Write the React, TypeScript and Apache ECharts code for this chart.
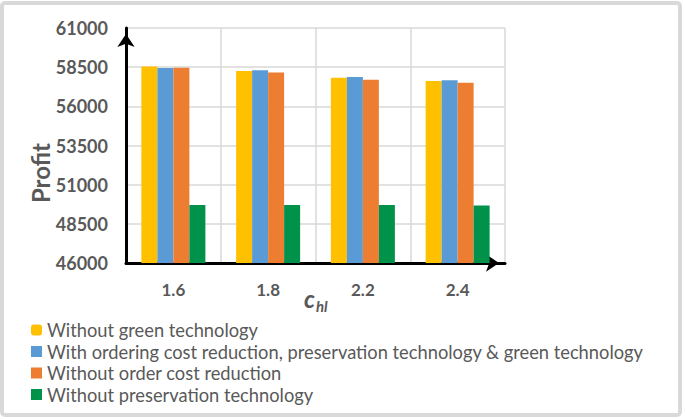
import React, { useEffect, useRef } from "react";
import * as echarts from "echarts";

const categories = ["1.6", "1.8", "2.2", "2.4"];
const seriesNames = [
  "Without green technology",
  "With ordering cost reduction, preservation technology & green technology",
  "Without order cost reduction",
  "Without preservation technology",
];
const withoutGreen = [58550, 58250, 57830, 57620];
const withAll = [58450, 58310, 57870, 57660];
const withoutOrderCost = [58460, 58160, 57700, 57510];
const withoutPreservation = [49700, 49700, 49700, 49670];
const colors = ["#FFC000", "#5B9BD5", "#ED7D31", "#00924A"];

const FONT = "Lato";
const GRAY = "#595959";

export default function App() {
  const ref = useRef<HTMLDivElement>(null);
  useEffect(() => {
    if (!ref.current) return;
    const chart = echarts.init(ref.current, undefined, { renderer: "svg" });
    const dataSets = [withoutGreen, withAll, withoutOrderCost, withoutPreservation];
    chart.setOption({
      animation: false,
      backgroundColor: "#ffffff",
      textStyle: { fontFamily: FONT },
      grid: { left: 126, right: 180, top: 28, bottom: 156, containLabel: false },
      legend: {
        orient: "vertical",
        left: 26,
        top: 316,
        itemWidth: 11,
        itemHeight: 11,
        itemGap: 3.5,
        icon: "rect",
        textStyle: { fontFamily: FONT, fontSize: 18.3, color: GRAY, lineHeight: 18 },
        data: seriesNames.map((n, i) => (i === 0 ? { name: n, icon: "roundRect" } : { name: n })),
      },
      xAxis: {
        type: "category",
        data: categories,
        axisLine: {
          show: true,
          lineStyle: { color: "#000", width: 3 },
          symbol: ["none", "arrow"],
          symbolSize: [13, 13],
          symbolOffset: [0, -6],
        },
        axisTick: { show: false },
        axisLabel: { fontFamily: FONT, fontSize: 17, fontWeight: "bold", color: GRAY, margin: 18 },
        splitLine: { show: true, interval: 0, lineStyle: { color: "#d9d9d9", width: 1.5 } },
      },
      yAxis: {
        type: "value",
        min: 46000,
        max: 61000,
        interval: 2500,
        axisLine: {
          show: true,
          lineStyle: { color: "#000", width: 3 },
          symbol: ["none", "arrow"],
          symbolSize: [13, 13],
          symbolOffset: [0, -6],
        },
        axisTick: { show: false },
        axisLabel: {
          fontFamily: FONT,
          fontSize: 18,
          fontWeight: "bold",
          color: GRAY,
          margin: 18,
          formatter: (v: number) => String(v),
        },
        splitLine: { show: true, lineStyle: { color: "#d9d9d9", width: 1.5 } },
      },
      series: seriesNames.map((n, i) => ({
        name: n,
        type: "bar",
        data: dataSets[i],
        barWidth: 16,
        barGap: "0%",
        itemStyle: { color: colors[i] },
      })),
      graphic: [
        {
          type: "rect",
          shape: { x: 2, y: 3, width: 678, height: 412, r: 3 },
          style: { fill: "none", stroke: "#d9d9d9", lineWidth: 4 },
          z: 100,
        },
        {
          type: "text",
          x: 40,
          y: 173,
          rotation: Math.PI / 2,
          style: {
            text: "Profit",
            fontFamily: FONT,
            fontSize: 24,
            fontWeight: "bold",
            fill: GRAY,
            textAlign: "center",
            textVerticalAlign: "middle",
          },
        },
        {
          type: "text",
          x: 304,
          y: 286,
          style: {
            text: "c",
            fontFamily: FONT,
            fontSize: 24,
            fontWeight: "bold",
            fontStyle: "italic",
            fill: GRAY,
            textAlign: "left",
            textVerticalAlign: "top",
          },
        },
        {
          type: "text",
          x: 316,
          y: 298,
          style: {
            text: "hl",
            fontFamily: FONT,
            fontSize: 15,
            fontWeight: "bold",
            fontStyle: "italic",
            fill: GRAY,
            textAlign: "left",
            textVerticalAlign: "top",
          },
        },
      ],
    });
    return () => chart.dispose();
  }, []);
  return (
    <div
      ref={ref}
      style={{ position: "fixed", left: 0, top: 0, width: 685, height: 419 }}
    />
  );
}
